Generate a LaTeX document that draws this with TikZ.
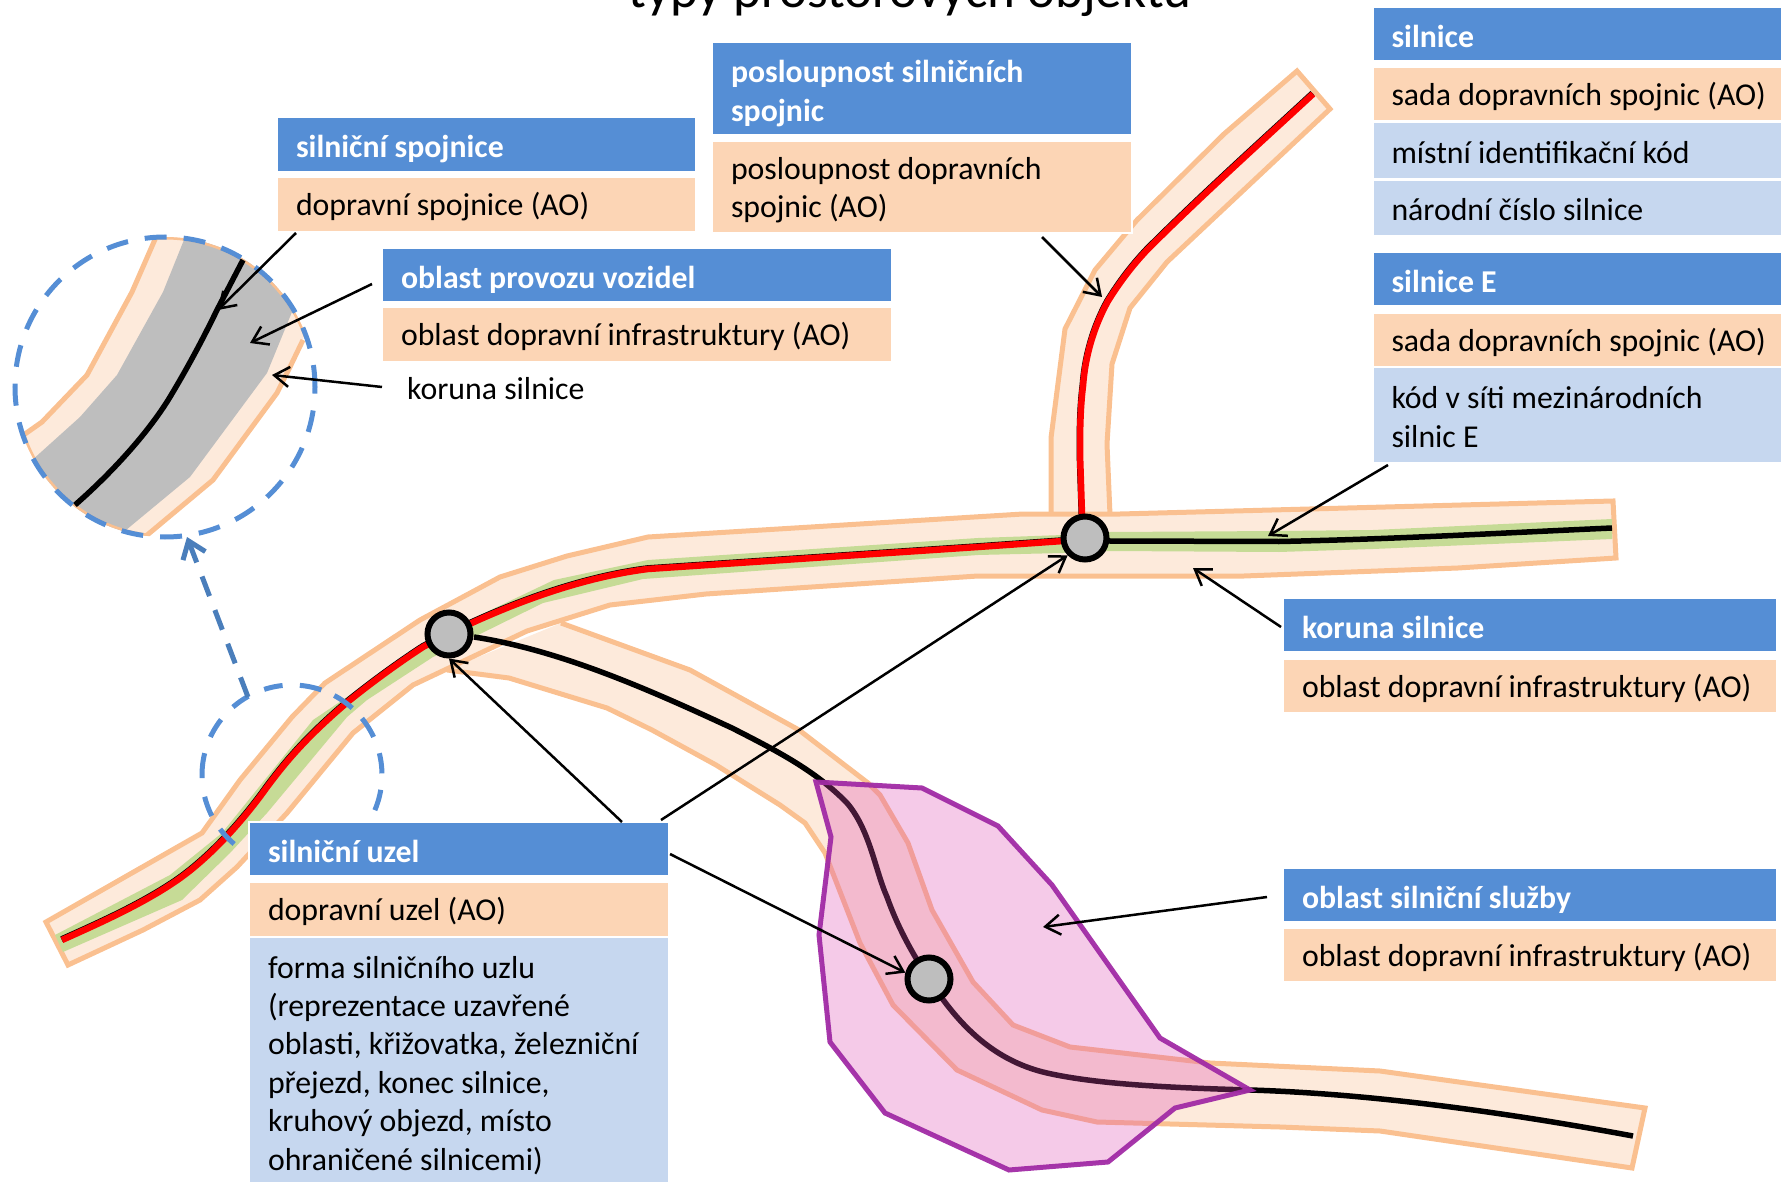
\documentclass[tikz,border=0pt]{standalone}
\usepackage{fontspec}
\setmainfont{Carlito}
\usetikzlibrary{arrows.meta}
\definecolor{hdrblue}{HTML}{558ED5}
\definecolor{rowor}{HTML}{FCD5B5}
\definecolor{rowlb}{HTML}{C6D7EF}
\definecolor{roadf}{HTML}{FDEADB}
\definecolor{roade}{HTML}{FAC090}
\definecolor{greenb}{HTML}{C6DB96}
\definecolor{dashb}{HTML}{558ED5}
\definecolor{dashc}{HTML}{4A7EBB}
\definecolor{purpf}{RGB}{222,78,178}
\definecolor{purpe}{HTML}{A12BA5}
\definecolor{jgrey}{HTML}{BEBEBE}
\newcommand{\txt}{\fontsize{31.8}{38.4}\selectfont}
\newcommand{\firstrule}{28pt}
\tikzset{
  x=1pt,y=-1pt,
  ruleh/.code={\def\firstrule{#1}},
  boxbase/.style={anchor=north west,rectangle,draw=white,line width=2pt,xshift=-1pt,yshift=1pt,inner xsep=18pt,inner ysep=0pt,outer sep=0pt,align=left,font=\txt,text=black,
    execute at begin node={\spaceskip=0pt\xspaceskip=0pt\rightskip=-30pt plus 1fil\rule{0pt}{\firstrule}},execute at end node={\rule[-8pt]{0pt}{0pt}}},
  wh/.style 2 args={minimum width=#1pt+2pt,text width=#1pt-36pt,minimum height=#2pt+2pt},
  hdr/.style={boxbase,ruleh=35pt,fill=hdrblue,text=white,font=\txt\bfseries},
  rowo/.style={boxbase,ruleh=30.5pt,fill=rowor},
  rowb/.style={boxbase,ruleh=34pt,fill=rowlb},
  road/.style={fill=roadf,draw=roade,line width=5pt,line join=miter},
  gband/.style={fill=greenb},
  redu/.style={draw=black,line width=6pt,shift={(-.5pt,.8pt)}},
  redl/.style={draw=red,line width=6.5pt},
  blk/.style={draw=black,line width=5.5pt},
  junction/.style={circle,fill=jgrey,draw=black,line width=6pt,minimum size=43pt,inner sep=0pt},
  arr/.style={draw=black,line width=2.5pt,-{Straight Barb[length=15pt,width=20pt,line width=2.5pt]}},
  zoomring/.style={draw=dashb,line width=5pt},
  plain/.style={font=\txt,text=black,inner sep=0pt}
}
\begin{document}
\begin{tikzpicture}
\useasboundingbox (0,0) rectangle (1781,1182);
\clip (0,0) rectangle (1781,1182);

% branch roads
\path[road] (561,623)--(690,670)--(799,730)--(868,783)--(880,795)--(908,843)--(932,910)--(973,982)--(1013,1025)--(1070,1047)--(1210,1063)--(1380,1071)--(1645,1108)--(1632,1168)--(1380,1131)--(1280,1127)--(1097,1122)--(1042,1110)--(957,1070)--(893,1005)--(860,943)--(825,853)--(805,823)--(780,805)--(716,765)--(652,730)--(607,708)--(509,678)--(447,670);
\path[fill=roadf] (1051,515)--(1051,438)--(1065,329)--(1095,270)--(1137,220)--(1224,134)--(1297,71)--(1330,109)--(1167,262)--(1130,308)--(1112,364)--(1107,444)--(1110,515)--cycle;
\path[draw=roade,line width=5pt,line join=miter] (1051,515)--(1051,438)--(1065,329)--(1095,270)--(1137,220)--(1224,134)--(1297,71)--(1330,109)--(1167,262)--(1130,308)--(1112,364)--(1107,444)--(1110,515);
% main road
\path[road] (46,922)--(202,833)--(240,780)--(292,717)--(325,683)--(420,620)--(500,577)--(567,556)--(648,537)--(1023,514)--(1120,514)--(1613,501)--(1616,558)--(1458,568)--(1244,576)--(978,576)--(706,594)--(610,605)--(527,631)--(413,685)--(353,733)--(287,813)--(237,867)--(200,900)--(143,930)--(68,965)--cycle;

% green band
\path[gband] (55,935)--(170,875)--(222,833)--(313,720)--(353,693)--(430,643)--(474,618)--(554,580)--(648,560)--(978,538)--(1063,535)--(1110,532)--(1279,531)--(1373,530)--(1612,519)--(1612,539)--(1373,549)--(1279,552)--(1110,551)--(1063,553)--(978,555)--(643,579)--(543,603)--(474,637)--(433,657)--(367,700)--(347,717)--(267,813)--(230,853)--(182,900)--(63,952)--cycle;

% centre lines
\draw[blk] (474,637) .. controls (560,650) and (650,690) .. (732,728) .. controls (775,750) and (815,770) .. (847,803) .. controls (870,830) and (875,870) .. (887,897) .. controls (897,925) and (910,950) .. (929,979) .. controls (955,1020) and (990,1060) .. (1047,1073) .. controls (1100,1085) and (1180,1088) .. (1250,1090) .. controls (1380,1094) and (1520,1115) .. (1633,1136);
\draw[blk] (1085,540) -- (1110,541) -- (1279,541.5) .. controls (1400,539) and (1500,533) .. (1612,528);
\foreach \st in {redu,redl}{
  \draw[\st] (62,940) .. controls (100,923) and (140,905) .. (173,883) .. controls (205,862) and (240,825) .. (267,787) .. controls (285,763) and (305,738) .. (350,700) .. controls (375,680) and (400,662) .. (423,647) .. controls (470,622) and (560,580) .. (648,569) -- (978,547) -- (1063,541);
  \draw[\st] (1313,94) .. controls (1260,143) and (1200,197) .. (1147,250) .. controls (1130,268) and (1118,285) .. (1108,301) .. controls (1093,328) and (1085,358) .. (1083,386) .. controls (1080,410) and (1080,435) .. (1080,454) -- (1082,515);
}

% zoom ring around the stretch of road
\foreach \a/\b in {96/108,71/85,48/62,25/39,1/14,-23/-9.5,119/131,142/155,166/182,194/207,217/230}{
  \draw[zoomring,line cap=butt] plot[smooth,domain=\a:\b,samples=8] ({292+90*cos(\x)},{775-90*sin(\x)});
}
\coordinate (ringstart) at (248,697);
\coordinate (ringtip) at (187,537);
\draw[draw=dashc,line width=5pt,dash pattern=on 21pt off 15pt,-{Straight Barb[length=16pt,width=24pt,line width=5pt]}] (ringstart) -- (ringtip);

% magnified detail
\begin{scope}
  \clip (165,387) circle (150);
  \path[fill=roadf] (160,228)--(132,292)--(87,375)--(42,422)--(15,441)--(20,540)--(140,541)--(213,480)--(277,393)--(290,367)--(303,340)--(310,310)--(330,228)--cycle;
  \path[fill=jgrey] (190,225)--(163,292)--(117,375)--(80,417)--(30,462)--(20,545)--(120,535)--(190,477)--(267,373)--(292,312)--(305,270)--(330,230)--cycle;
  \draw[draw=roade,line width=5pt] (160,228)--(132,292)--(87,375)--(42,422)--(15,441);
  \draw[draw=roade,line width=5pt] (140,541)--(213,480)--(277,393)--(290,367)--(303,340);
  \begin{scope}
    \clip (160,228)--(132,292)--(87,375)--(42,422)--(15,441)--(20,540)--(140,541)--(213,480)--(277,393)--(290,367)--(303,340)--(310,310)--(330,228)--cycle;
    \draw[draw=roade,line width=5pt] (165,387) circle (150);
  \end{scope}
  \draw[blk] (243,260) -- (217,310) .. controls (200,345) and (185,372) .. (170,397) .. controls (150,430) and (115,470) .. (75,505);
\end{scope}
\node[circle,draw=dashb,line width=5pt,dash pattern=on 22pt off 17pt,minimum size=300pt,inner sep=0pt] (detail) at (165,387) {};

% service area
\path[fill=purpf,fill opacity=.3,draw=purpe,draw opacity=.95,line width=5pt,line join=miter] (816,782)--(922,788)--(998,826)--(1052,885)--(1160,1038)--(1250,1090)--(1175,1108)--(1108,1162)--(1009,1170)--(885,1113)--(830,1042)--(819,935)--(831,837)--cycle;

% junctions
\node[junction] (n1) at (1085,538) {};
\node[junction] (n2) at (449,634) {};
\node[junction] (n3) at (929,979) {};

% boxes
\node[hdr,wh={417}{53}] (sp) at (278,118) {silniční spojnice};
\node[rowo,wh={417}{53}] (spa) at (278,178) {dopravní spojnice (AO)};
\node[hdr,wh={508}{52}] (pr) at (383,249) {oblast provozu vozidel};
\node[rowo,wh={508}{53}] (pra) at (383,308) {oblast dopravní infrastruktury (AO)};
\node[plain,anchor=west] (kor) at (407,389) {koruna silnice};
\node[hdr,wh={418}{91}] (po) at (713,43) {posloupnost silničních\\spojnic};
\node[rowo,wh={418}{90}] (poa) at (713,142) {posloupnost dopravních\\spojnic (AO)};
\node[hdr,wh={408}{52}] (si) at (1373.5,8) {silnice};
\node[rowo,wh={408}{52}] (sia) at (1373.5,68) {sada dopravních spojnic (AO)};
\node[rowb,wh={408}{55}] (sib) at (1373.5,123) {místní identifikační kód};
\node[rowb,wh={408}{54}] (sic) at (1373.5,181) {národní číslo silnice};
\node[hdr,wh={408}{52}] (se) at (1373.5,253) {silnice E};
\node[rowo,wh={408}{52}] (sea) at (1373.5,314) {sada dopravních spojnic (AO)};
\node[rowb,wh={408}{93}] (seb) at (1373.5,368.5) {kód v síti mezinárodních\\silnic E};
\node[hdr,wh={492}{52}] (ko) at (1284,599) {koruna silnice};
\node[rowo,wh={492}{52}] (koa) at (1284,660) {oblast dopravní infrastruktury (AO)};
\node[hdr,wh={492}{52}] (ob) at (1284,869) {oblast silniční služby};
\node[rowo,wh={492}{52}] (oba) at (1284,929) {oblast dopravní infrastruktury (AO)};
\node[hdr,wh={418}{52}] (uz) at (250,823) {silniční uzel};
\node[rowo,wh={418}{53}] (uza) at (250,883) {dopravní uzel (AO)};
\node[rowb,wh={418}{246}] (uzb) at (250,938) {forma silničního uzlu\\(reprezentace uzavřené\\oblasti, křižovatka, železniční\\přejezd, konec silnice,\\kruhový objezd, místo\\ohraničené silnicemi)};

% title
\node[anchor=base,inner sep=0pt,font=\fontsize{53}{56}\selectfont] (title) at (910,8) {typy prostorových objektů};

% arrows
\coordinate (a1s) at (296,233); \coordinate (a1t) at (218,310);
\coordinate (a2s) at (372,284); \coordinate (a2t) at (250,343);
\coordinate (a3s) at (382,387); \coordinate (a3t) at (272,375);
\coordinate (a4s) at (1042,237); \coordinate (a4t) at (1102,297);
\coordinate (a5s) at (1388,465); \coordinate (a5t) at (1268,536);
\coordinate (a6s) at (1281,627); \coordinate (a6t) at (1193,568);
\coordinate (a7s) at (622,822);
\coordinate (a8s) at (661,820);
\coordinate (a9s) at (670,854);
\coordinate (a10s) at (1267,897); \coordinate (a10t) at (1043,927);
\draw[arr] (a1s) -- (a1t);
\draw[arr] (a2s) -- (a2t);
\draw[arr] (a3s) -- (a3t);
\draw[arr] (a4s) -- (a4t);
\draw[arr] (a5s) -- (a5t);
\draw[arr] (a6s) -- (a6t);
\draw[arr] (a7s) -- (n2.south);
\draw[arr] (a8s) -- (n1.225);
\draw[arr] (a9s) -- (n3.165);
\draw[arr] (a10s) -- (a10t);
\end{tikzpicture}
\end{document}
